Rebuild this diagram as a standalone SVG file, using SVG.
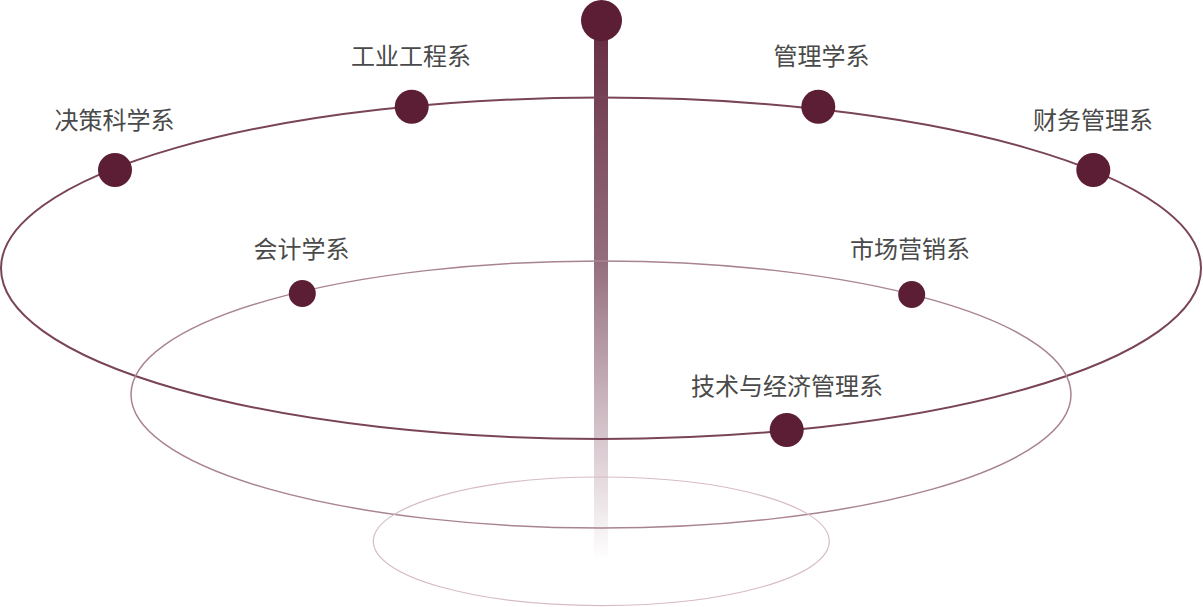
<svg xmlns="http://www.w3.org/2000/svg" width="1203" height="607" viewBox="0 0 1203 607">
<style>
.lbl{font-family:"Noto Sans CJK SC","Noto Sans",sans-serif;font-size:24px;fill:#4a4a4a;text-anchor:middle}
.dot{fill:#5c1e34}
</style>
<defs>
<linearGradient id="bar" x1="0" y1="20" x2="0" y2="560" gradientUnits="userSpaceOnUse">
<stop offset="0" stop-color="#5c1e34" stop-opacity="0.95"/>
<stop offset="0.45" stop-color="#7a4a5e" stop-opacity="0.8"/>
<stop offset="1" stop-color="#8a5a6d" stop-opacity="0"/>
</linearGradient>
</defs>
<g id="connectors">
<rect x="594" y="20" width="14" height="540" fill="url(#bar)"/>
<ellipse cx="601" cy="268.3" rx="600" ry="170.7" fill="none" stroke="#7a4458" stroke-width="2"/>
<ellipse cx="601" cy="394.5" rx="470" ry="133.5" fill="none" stroke="#a98490" stroke-width="1.5"/>
<ellipse cx="601.3" cy="541.3" rx="228" ry="64.3" fill="none" stroke="#d6bcc4" stroke-width="1.2"/>
</g>
<g id="top"><circle class="dot" cx="601.5" cy="20.5" r="20.5"/></g>
<g id="n1"><circle class="dot" cx="115" cy="170" r="17"/><text class="lbl" x="114.5" y="129">决策科学系</text></g>
<g id="n2"><circle class="dot" cx="411.7" cy="106.7" r="17"/><text class="lbl" x="411" y="65">工业工程系</text></g>
<g id="n3"><circle class="dot" cx="818.3" cy="106.7" r="17"/><text class="lbl" x="821.5" y="65">管理学系</text></g>
<g id="n4"><circle class="dot" cx="1093.3" cy="170" r="17"/><text class="lbl" x="1093" y="129">财务管理系</text></g>
<g id="n5"><circle class="dot" cx="302.3" cy="293.5" r="13.5"/><text class="lbl" x="301.5" y="258">会计学系</text></g>
<g id="n6"><circle class="dot" cx="911.7" cy="294.5" r="13.5"/><text class="lbl" x="910" y="258">市场营销系</text></g>
<g id="n7"><circle class="dot" cx="786.7" cy="430" r="17"/><text class="lbl" x="787" y="395">技术与经济管理系</text></g>
</svg>
